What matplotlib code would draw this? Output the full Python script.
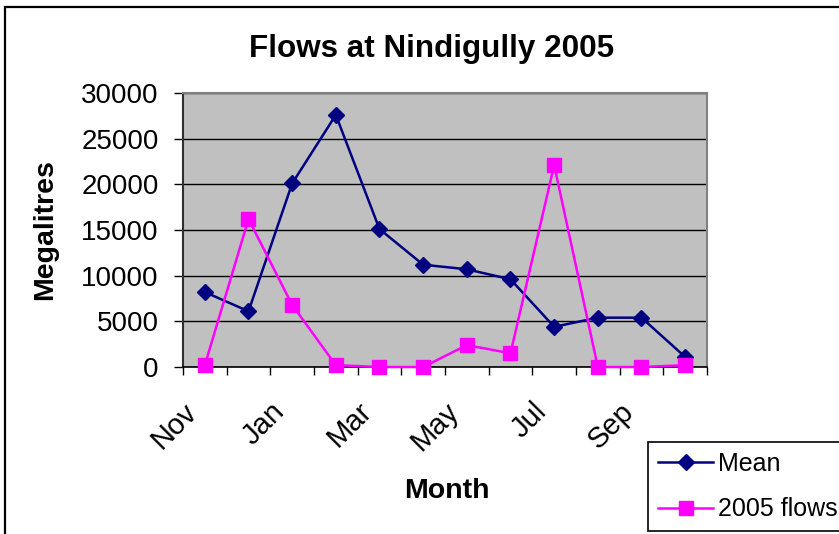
import matplotlib
matplotlib.use("Agg")
import matplotlib.pyplot as plt
from matplotlib.patches import Rectangle
from matplotlib.transforms import ScaledTranslation

plt.rcParams['font.family'] = ['Liberation Sans', 'DejaVu Sans']

# ---- data ----
months = ["Nov", "Dec", "Jan", "Feb", "Mar", "Apr", "May", "Jun", "Jul", "Aug", "Sep", "Oct"]
mean_flows = [8200, 6100, 20100, 27600, 15100, 11200, 10700, 9600, 4400, 5400, 5400, 1100]
flows_2005 = [200, 16200, 6800, 200, 0, 0, 2400, 1500, 22100, 0, 0, 200]
y_ticks = [0, 5000, 10000, 15000, 20000, 25000, 30000]
title = "Flows at Nindigully 2005"
x_title = "Month"
y_title = "Megalitres"
series_names = ["Mean", "2005 flows"]

W, H = 839, 534
fig = plt.figure(figsize=(W / 100, H / 100), dpi=100)
fig.patch.set_facecolor("white")

# axes placement (pixels -> fractions)
left, right, top, bottom = 183, 707, 93, 367
ax = fig.add_axes([left / W, 1 - bottom / H, (right - left) / W, (bottom - top) / H])
ax.set_facecolor("#C0C0C0")

x = list(range(len(months)))
ax.plot(x, mean_flows, color="#000080", lw=1.8, marker="D", ms=8.5,
        mfc="#000080", mec="#000080", label=series_names[0], zorder=3)
ax.plot(x, flows_2005, color="#FF00FF", lw=1.8, marker="s", ms=10,
        mfc="#FF00FF", mec="#FF00FF", label=series_names[1], zorder=3, clip_on=False)

ax.set_xlim(-0.5, len(months) - 0.5)
ax.set_ylim(y_ticks[0], y_ticks[-1])

# y axis
ax.set_yticks(y_ticks)
ax.set_yticklabels([str(v) for v in y_ticks])
ax.tick_params(axis="y", direction="out", length=6.5, width=1, colors="black",
               labelsize=20, pad=11)
ax.yaxis.grid(True, color="black", lw=1)
ax.set_axisbelow(True)

# x axis: boundary ticks (minor), labels every other category (major)
ax.set_xticks([i - 0.5 for i in range(len(months) + 1)], minor=True)
ax.set_xticks(x[::2])
ax.set_xticklabels(months[::2], rotation=45, ha="right", va="center",
                   rotation_mode="anchor")
ax.tick_params(axis="x", which="minor", direction="out", length=5.8, width=1, colors="black")
ax.tick_params(axis="x", which="major", length=0, labelsize=21, pad=29)
shift = ScaledTranslation(-12 / 100, 0, fig.dpi_scale_trans)
for lbl in ax.get_xticklabels():
    lbl.set_transform(lbl.get_transform() + shift)

for s in ["top", "right"]:
    ax.spines[s].set_color("#808080")
    ax.spines[s].set_linewidth(1.5)
ax.spines["left"].set_color("#303030")
ax.spines["left"].set_linewidth(1.5)
ax.spines["bottom"].set_color("black")
ax.spines["bottom"].set_linewidth(1.2)

# titles
fig.text(432 / W, 1 - 57 / H, title, ha="center", va="baseline",
         fontsize=22.6, fontweight="bold")
fig.text(45 / W, 1 - 230 / H, y_title, ha="center", va="center", rotation=90,
         fontsize=20.5, fontweight="bold")
fig.text(447 / W, 1 - 491 / H, x_title, ha="center", va="center",
         fontsize=20.5, fontweight="bold")

# legend
leg = fig.legend(loc="upper left", bbox_to_anchor=(648 / W, 1 - 442 / H),
                 bbox_transform=fig.transFigure, borderaxespad=0,
                 fontsize=18, frameon=True, fancybox=False, framealpha=1,
                 edgecolor="black", handlelength=2.2, handletextpad=0.2,
                 borderpad=0.4, labelspacing=0.85, numpoints=1)
leg.get_frame().set_linewidth(1.2)

# outer chart border (extends past right/bottom edges)
fig.add_artist(Rectangle((5 / W, -0.1), 2.0, 1.1 - 7 / H, transform=fig.transFigure,
                         fill=False, edgecolor="black", lw=1.6))

fig.savefig("out.png", dpi=100, facecolor="white")
